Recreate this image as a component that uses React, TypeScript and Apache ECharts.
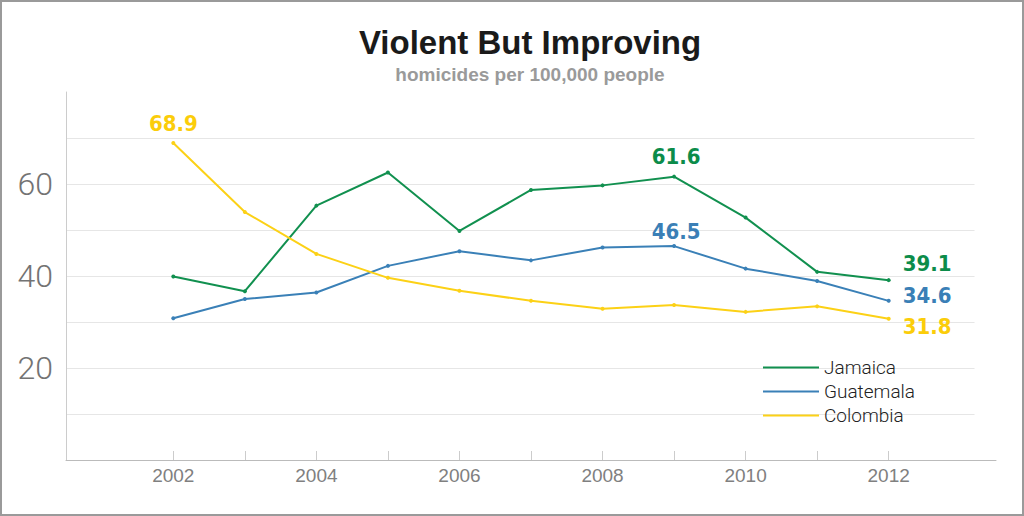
import React, { useEffect, useRef } from "react";
import * as echarts from "echarts";

const years = [2002, 2003, 2004, 2005, 2006, 2007, 2008, 2009, 2010, 2011, 2012];
const jamaica = [39.9, 36.7, 55.3, 62.5, 49.8, 58.7, 59.7, 61.6, 52.7, 40.9, 39.1];
const guatemala = [30.8, 35.0, 36.4, 42.2, 45.4, 43.4, 46.2, 46.5, 41.6, 38.9, 34.6];
const colombia = [68.9, 53.9, 44.8, 39.6, 36.8, 34.6, 32.9, 33.7, 32.2, 33.4, 30.7];
const xLabelYears = [2002, 2004, 2006, 2008, 2010, 2012];
const yLabelValues = [20, 40, 60];
const gridValues = [10, 20, 30, 40, 50, 60, 70];

const seriesNames = ["Jamaica", "Guatemala", "Colombia"];
const colors = ["#11904f", "#3a80b7", "#fcd116"];
const labelColors = ["#0c8c4a", "#3a7fb6", "#fbcd0a"];

// callout labels: series index, point index, text
const callouts = [
  { s: 2, i: 0, text: "68.9", pos: "top", dist: 7, off: [0, 0] },
  { s: 0, i: 7, text: "61.6", pos: "top", dist: 7, off: [2, 0] },
  { s: 1, i: 7, text: "46.5", pos: "top", dist: 2, off: [2, 0] },
  { s: 0, i: 10, text: "39.1", pos: "right", dist: 12, off: [0, -17] },
  { s: 1, i: 10, text: "34.6", pos: "right", dist: 12, off: [0, -5] },
  { s: 2, i: 10, text: "31.8", pos: "right", dist: 12, off: [0, 8] },
];

const allValues = [jamaica, guatemala, colombia];

export default function App() {
  const ref = useRef<HTMLDivElement>(null);
  useEffect(() => {
    if (!ref.current) return;
    const chart = echarts.init(ref.current, null, { renderer: "svg" });
    const series: any[] = allValues.map((vals, s) => ({
      name: seriesNames[s],
      type: "line",
      z: 3 + s,
      symbol: "circle",
      symbolSize: 4,
      showSymbol: true,
      lineStyle: { color: colors[s], width: 2 },
      itemStyle: { color: colors[s], borderColor: colors[s], borderWidth: 0 },
      data: vals.map((v, i) => {
        const c = callouts.find((c) => c.s === s && c.i === i);
        const item: any = { value: [years[i], v] };
        if (c) {
          item.label = {
            show: true,
            position: c.pos,
            distance: c.dist,
            offset: c.off,
            formatter: c.text,
            color: labelColors[s],
            textBorderWidth: 0,
            textBorderColor: "transparent",
            fontFamily: "DejaVu Sans Condensed",
            fontWeight: "bold",
            fontSize: 22,
          };
        }
        return item;
      }),
    }));
    series.unshift({
      name: "_grid",
      type: "line",
      z: 0,
      data: [],
      silent: true,
      markLine: {
        silent: true,
        z: 0,
        symbol: "none",
        label: { show: false },
        emphasis: { disabled: true },
        lineStyle: { color: "#e6e6e6", width: 1, type: "solid" },
        data: gridValues.map((v) => [
          { coord: [2000.5, v] },
          { coord: [2013.2, v] },
        ]),
      },
    });
    chart.setOption({
      animation: false,
      backgroundColor: "#ffffff",
      title: [
        {
          text: "Violent But Improving",
          left: 523,
          textAlign: "center",
          top: 19,
          textStyle: {
            fontFamily: "'Liberation Sans', Arial, sans-serif",
            fontWeight: "bold",
            fontSize: 33,
            color: "#1a1a1a",
          },
        },
        {
          text: "homicides per 100,000 people",
          left: 523,
          textAlign: "center",
          top: 58,
          textStyle: {
            fontFamily: "'Liberation Sans', Arial, sans-serif",
            fontWeight: "bold",
            fontSize: 19,
            color: "#9a9a9a",
          },
        },
      ],
      legend: {
        data: seriesNames,
        orient: "vertical",
        left: 756,
        top: 351,
        z: 10,
        icon: "rect",
        itemWidth: 56,
        itemHeight: 2,
        itemGap: 5,
        textStyle: {
          fontFamily: "Roboto, 'Liberation Sans', sans-serif",
          fontWeight: 300,
          fontSize: 19,
          lineHeight: 19,
          color: "#222222",
          padding: [0, 0, 0, 0],
        },
      },
      grid: { left: 64, right: 26, top: 90, bottom: 54 },
      xAxis: {
        type: "value",
        min: 2000.5,
        max: 2013.5,
        axisLine: { show: true, lineStyle: { color: "#bbbbbb", width: 1 } },
        axisTick: {
          show: true,
          inside: true,
          length: 9,
          customValues: years,
          lineStyle: { color: "#cccccc" },
        },
        axisLabel: {
          customValues: xLabelYears,
          formatter: (v: number) => String(v),
          fontFamily: "'Liberation Sans', Arial, sans-serif",
          fontSize: 19,
          color: "#808080",
          margin: 6,
        },
        splitLine: { show: false },
      },
      yAxis: {
        type: "value",
        min: 0,
        max: 80,
        axisLine: { show: true, lineStyle: { color: "#cccccc", width: 1 } },
        axisTick: { show: false },
        axisLabel: {
          customValues: yLabelValues,
          fontFamily: "Roboto, 'Liberation Sans', sans-serif",
          fontWeight: 300,
          fontSize: 32,
          color: "#737373",
          margin: 13,
        },
        splitLine: { show: false },
      },
      series,
    });
    return () => chart.dispose();
  }, []);
  return (
    <div
      style={{
        position: "fixed",
        left: 0,
        top: 0,
        width: 1024,
        height: 516,
        border: "2px solid #9a9a9a",
        boxSizing: "border-box",
        background: "#fff",
      }}
    >
      <div ref={ref} style={{ width: 1020, height: 512 }} />
    </div>
  );
}
